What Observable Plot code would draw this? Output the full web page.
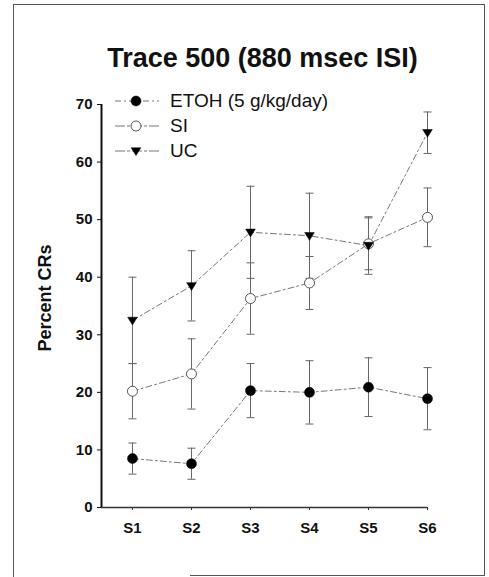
<!DOCTYPE html>
<html><head><meta charset="utf-8">
<script src="https://cdn.jsdelivr.net/npm/d3@7"></script>
<script src="https://cdn.jsdelivr.net/npm/@observablehq/plot@0.6"></script>
<style>
body{margin:0;background:#fff;font-family:"Liberation Sans",Arial,sans-serif;}
#wrap{position:relative;width:489px;height:577px;overflow:hidden;background:#fff;}
#wrap svg{position:absolute;left:0;top:0;}
.bd{position:absolute;background:#555;}
#legend{position:absolute;left:114px;top:88px;}
.row{display:flex;align-items:center;height:25px;font-size:19px;color:#111;white-space:nowrap;}
.row svg{position:static !important;margin-right:10px;}
</style></head><body><div id="wrap"></div>
<script>
// ---- data ----
const sessions = [1, 2, 3, 4, 5, 6];
const sessionLabels = ["S1", "S2", "S3", "S4", "S5", "S6"];
const seriesNames = ["ETOH (5 g/kg/day)", "SI", "UC"];
const etohMean = [8.5, 7.6, 20.3, 20.0, 20.9, 18.9];
const etohErr  = [2.7, 2.7, 4.7, 5.5, 5.1, 5.4];
const siMean   = [20.2, 23.2, 36.3, 39.0, 45.8, 50.4];
const siErr    = [4.8, 6.1, 6.2, 4.6, 4.5, 5.1];
const ucMean   = [32.5, 38.5, 47.8, 47.2, 45.5, 65.1];
const ucErr    = [7.5, 6.1, 8.0, 7.4, 5.0, 3.6];
const yTicks = [0, 10, 20, 30, 40, 50, 60, 70];
const titleText = "Trace 500 (880 msec ISI)";
const yLabel = "Percent CRs";

// ---- build ----
const means = [etohMean, siMean, ucMean];
const errs = [etohErr, siErr, ucErr];
const data = [];
seriesNames.forEach((name, k) => sessions.forEach((s, i) => data.push({
  series: name, k, s, mean: means[k][i], lo: means[k][i] - errs[k][i], hi: means[k][i] + errs[k][i]
})));

const triDown = {draw(ctx, size) {
  const r = Math.sqrt(size / Math.PI);
  ctx.moveTo(-r * 1.05, -r * 0.7); ctx.lineTo(r * 1.05, -r * 0.7); ctx.lineTo(0, r * 1.0); ctx.closePath();
}};
const cap = {draw(ctx, size) {
  const r = Math.sqrt(size / Math.PI);
  ctx.moveTo(-r, 0); ctx.lineTo(r, 0);
}};
const markerStyle = [
  {symbol: "circle", r: 5, fill: "#000", stroke: "#000", strokeWidth: 0.5},
  {symbol: "circle", r: 5, fill: "#fff", stroke: "#555", strokeWidth: 1},
  {symbol: triDown, r: 4.6, fill: "#000", stroke: "#000", strokeWidth: 0.5}
];
const xDomain = [0.475, 6];
const yDomain = [0, 70];
const font = "Liberation Sans, Arial, sans-serif";

const plot = Plot.plot({
  width: 489, height: 577,
  marginLeft: 101, marginRight: 62, marginTop: 104, marginBottom: 70,
  style: {fontFamily: font, background: "transparent", color: "#111", overflow: "visible"},
  x: {domain: xDomain, axis: null},
  y: {domain: yDomain, axis: null},
  marks: [
    Plot.axisY(yTicks, {tickSize: 4, tickPadding: 5, fontSize: 15, fontWeight: "bold", label: null, stroke: "#111"}),
    Plot.axisX(sessions, {tickSize: 3, tickPadding: 12, fontSize: 15, fontWeight: "bold", label: null, stroke: "#333",
      tickFormat: d => sessionLabels[sessions.indexOf(d)]}),
    Plot.ruleX([xDomain[0]], {y1: yDomain[0], y2: yDomain[1], stroke: "#111", strokeWidth: 2}),
    Plot.ruleY([yDomain[0]], {x1: xDomain[0], x2: xDomain[1], stroke: "#333", strokeWidth: 1.5}),
    Plot.ruleX(data, {x: "s", y1: "lo", y2: "hi", stroke: "#666", strokeWidth: 1}),
    Plot.dot(data, {x: "s", y: "lo", symbol: cap, r: 4, stroke: "#666", strokeWidth: 1}),
    Plot.dot(data, {x: "s", y: "hi", symbol: cap, r: 4, stroke: "#666", strokeWidth: 1}),
    Plot.line(data, {x: "s", y: "mean", z: "series", stroke: "#777", strokeWidth: 1, strokeDasharray: "6,3,2,3"}),
    ...seriesNames.map((name, k) => Plot.dot(data.filter(d => d.k === k), {x: "s", y: "mean", ...markerStyle[k]})),
    Plot.text([titleText], {frameAnchor: "top", lineAnchor: "middle", dx: -2, dy: -46, fontSize: 27, fontWeight: "bold", fill: "#111"}),
    Plot.text([yLabel], {frameAnchor: "left", lineAnchor: "middle", textAnchor: "middle", rotate: -90, dx: -56, dy: -8, fontSize: 18, fontWeight: "bold", fill: "#111"})
  ]
});

const wrap = document.getElementById("wrap");
wrap.appendChild(plot);

// border
[[13, 4, 472, 1], [13, 4, 1, 573], [484, 4, 1, 572], [190, 575, 295, 1]].forEach(([l, t, w, h]) => {
  const d = document.createElement("div"); d.className = "bd";
  Object.assign(d.style, {left: l + "px", top: t + "px", width: w + "px", height: h + "px"});
  wrap.appendChild(d);
});

// legend
const legend = d3.select(wrap).append("div").attr("id", "legend");
seriesNames.forEach((name, k) => {
  const row = legend.append("div").attr("class", "row");
  const svg = row.append("svg").attr("width", 46).attr("height", 16);
  svg.append("line").attr("x1", 1).attr("x2", 45).attr("y1", 8).attr("y2", 8)
    .attr("stroke", "#777").attr("stroke-dasharray", k === 0 ? "6,3,2,3" : "10,2,3,2");
  const ms = markerStyle[k];
  const sym = typeof ms.symbol === "string" ? d3.symbolCircle : ms.symbol;
  svg.append("path").attr("transform", "translate(22,8)")
    .attr("d", d3.symbol(sym, ms.r * ms.r * Math.PI)())
    .attr("fill", ms.fill).attr("stroke", ms.stroke).attr("stroke-width", ms.strokeWidth);
  row.append("span").text(name);
});
</script></body></html>
